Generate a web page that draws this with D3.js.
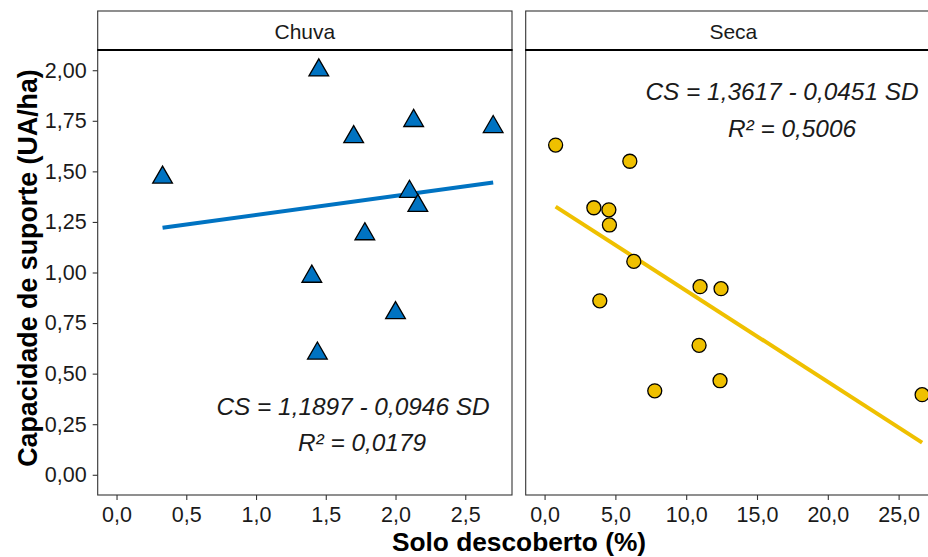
<!DOCTYPE html>
<html>
<head>
<meta charset="utf-8">
<script src="https://cdn.jsdelivr.net/npm/d3@7"></script>
<style>
  body { margin: 0; background: #fff; }
  svg { display: block; font-family: "Liberation Sans", Arial, sans-serif; }
</style>
</head>
<body>
<svg id="chart" width="928" height="557"></svg>
<script>
// facet labels
const facets = ["Chuva", "Seca"];

// Chuva: solo descoberto (%) x capacidade de suporte (UA/ha)
const chuvaX = [0.33, 1.45, 1.70, 2.13, 2.70, 2.10, 2.16, 1.78, 1.40, 2.00, 1.44];
const chuvaY = [1.47, 2.00, 1.67, 1.75, 1.72, 1.40, 1.33, 1.19, 0.98, 0.80, 0.60];

// Seca
const secaX = [0.78, 6.02, 3.48, 4.54, 4.58, 6.30, 3.90, 10.98, 12.46, 10.91, 12.39, 7.78, 26.66];
const secaY = [1.63, 1.55, 1.32, 1.31, 1.235, 1.055, 0.86, 0.93, 0.92, 0.64, 0.465, 0.415, 0.396];

// fitted lines (end points)
const chuvaFitX = [0.33, 2.70], chuvaFitY = [1.221, 1.445];
const secaFitX = [0.78, 26.66], secaFitY = [1.326, 0.159];

// equation labels
const chuvaEq = ["CS = 1,1897 - 0,0946 SD", "R² = 0,0179"];
const secaEq = ["CS = 1,3617 - 0,0451 SD", "R² = 0,5006"];

// ticks
const yTicks = [0, 0.25, 0.5, 0.75, 1, 1.25, 1.5, 1.75, 2];
const chuvaTicks = [0, 0.5, 1, 1.5, 2, 2.5];
const secaTicks = [0, 5, 10, 15, 20, 25];

const blue = "#0073C2", yellow = "#EFC000", ink = "#1a1a1a";
const comma = d3.formatLocale({ decimal: ",", thousands: ".", grouping: [3], currency: ["", ""] });

const svg = d3.select("#chart");
svg.append("rect").attr("width", 928).attr("height", 557).attr("fill", "#fff");

const panelTop = 50, panelBottom = 495;
const y = d3.scaleLinear().domain([-0.1, 2.1]).range([panelBottom, panelTop]);

const panels = [
  { name: facets[0], left: 97.7, right: 512, x: d3.scaleLinear().domain([-0.135, 2.835]),
    px: chuvaX, py: chuvaY, fx: chuvaFitX, fy: chuvaFitY, color: blue, shape: "tri",
    ticks: chuvaTicks, fmt: comma.format(".1f"), eq: chuvaEq, eqX: [353, 362], eqY: [415, 451] },
  { name: facets[1], left: 525.7, right: 941, x: d3.scaleLinear().domain([-1.333, 27.993]),
    px: secaX, py: secaY, fx: secaFitX, fy: secaFitY, color: yellow, shape: "circle",
    ticks: secaTicks, fmt: comma.format(".1f"), eq: secaEq, eqX: [782, 792], eqY: [100, 137] }
];

panels.forEach(p => {
  p.x.range([p.left, p.right]);
  const g = svg.append("g");

  // strip
  g.append("rect").attr("x", p.left).attr("y", 11).attr("width", p.right - p.left).attr("height", panelTop - 11)
    .attr("fill", "#fff").attr("stroke", "#333").attr("stroke-width", 1.1);
  g.append("text").attr("x", (p.left + p.right) / 2).attr("y", 38.5).attr("text-anchor", "middle")
    .attr("font-size", 21).attr("fill", ink).text(p.name);

  // panel border
  g.append("rect").attr("x", p.left).attr("y", panelTop).attr("width", p.right - p.left).attr("height", panelBottom - panelTop)
    .attr("fill", "none").attr("stroke", "#333").attr("stroke-width", 1.1);
  g.append("line").attr("x1", p.left - 0.5).attr("x2", p.right + 0.5).attr("y1", panelTop).attr("y2", panelTop)
    .attr("stroke", "#000").attr("stroke-width", 2.2);

  // x axis
  const xa = g.append("g").attr("transform", `translate(0,${panelBottom})`)
    .call(d3.axisBottom(p.x).tickValues(p.ticks).tickFormat(p.fmt).tickSize(5).tickPadding(7));
  xa.select(".domain").remove();
  xa.selectAll("line").attr("stroke", "#333").attr("stroke-width", 1.1);
  xa.selectAll("text").attr("font-size", 21.5).attr("fill", ink).attr("font-family", null);

  // fit line
  g.append("path")
    .datum(d3.zip(p.fx, p.fy))
    .attr("d", d3.line().x(d => p.x(d[0])).y(d => y(d[1])))
    .attr("fill", "none").attr("stroke", p.color).attr("stroke-width", 4);

  // points
  const pts = d3.zip(p.px, p.py);
  if (p.shape === "tri") {
    g.selectAll(".pt").data(pts).join("path").attr("class", "pt")
      .attr("transform", d => `translate(${p.x(d[0])},${y(d[1])})`)
      .attr("d", d3.symbol(d3.symbolTriangle, 168)())
      .attr("fill", p.color).attr("stroke", "#000").attr("stroke-width", 1.3);
  } else {
    g.selectAll(".pt").data(pts).join("circle").attr("class", "pt")
      .attr("cx", d => p.x(d[0])).attr("cy", d => y(d[1])).attr("r", 7)
      .attr("fill", p.color).attr("stroke", "#000").attr("stroke-width", 1.3);
  }

  // equation
  p.eq.forEach((t, i) => {
    g.append("text").attr("x", p.eqX[i]).attr("y", p.eqY[i]).attr("text-anchor", "middle")
      .attr("font-size", 24.4).attr("font-style", "italic").attr("fill", ink).text(t);
  });
});

// y axis on first panel
const ya = svg.append("g").attr("transform", `translate(${panels[0].left},0)`)
  .call(d3.axisLeft(y).tickValues(yTicks).tickFormat(comma.format(".2f")).tickSize(5).tickPadding(6));
ya.select(".domain").remove();
ya.selectAll("line").attr("stroke", "#333").attr("stroke-width", 1.1);
ya.selectAll("text").attr("font-size", 21.5).attr("fill", ink).attr("font-family", null);

// axis titles
svg.append("text").attr("x", 519).attr("y", 551).attr("text-anchor", "middle")
  .attr("font-size", 26.3).attr("font-weight", "bold").attr("fill", "#000").text("Solo descoberto (%)");
svg.append("text").attr("transform", "translate(36.5,268) rotate(-90)").attr("text-anchor", "middle")
  .attr("font-size", 26.8).attr("font-weight", "bold").attr("fill", "#000").text("Capacidade de suporte (UA/ha)");
</script>
</body>
</html>
